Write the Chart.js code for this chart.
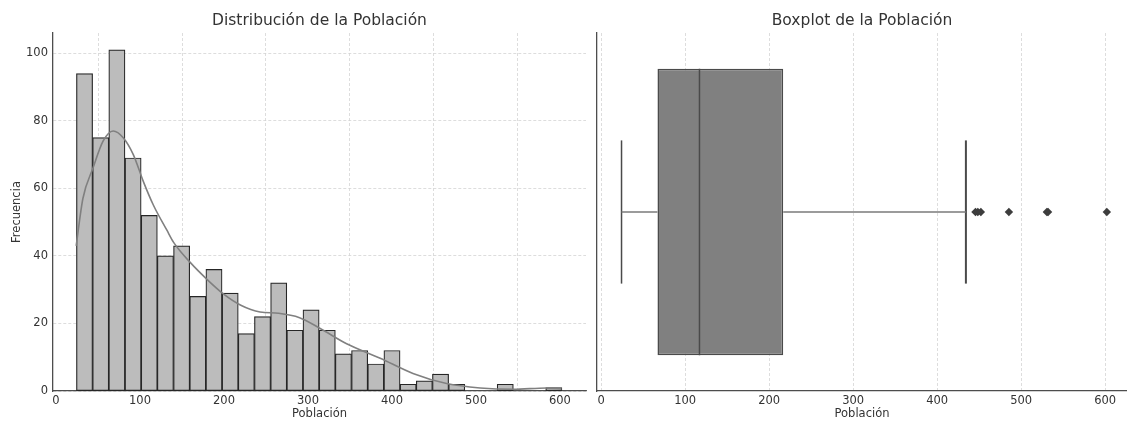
<!DOCTYPE html>
<html>
<head>
  <title>Población</title>
  <script src="https://cdn.jsdelivr.net/npm/chart.js"></script>
  <style>
    body { margin: 0; background: #fff; overflow: hidden; }
    #wrap { position: relative; width: 1127px; height: 421px; }
    #histChart { position: absolute; left: 0; top: 0; }
    #boxChart { position: absolute; left: 587px; top: 0; }
  </style>
</head>
<body>
  <div id="wrap">
    <canvas id="histChart" width="600" height="421"></canvas>
    <canvas id="boxChart" width="540" height="421"></canvas>
  </div>

  <script>
    // histogram: 30 bins between the min and max of the data
    const binMin = 24.3;
    const binMax = 602.3;
    const binCounts = [94, 75, 101, 69, 52, 40, 43, 28, 36, 29, 17, 22, 32, 18, 24,
                       18, 11, 12, 8, 12, 2, 3, 5, 2, 0, 0, 2, 0, 0, 1];

    // kde curve (scaled to counts)
    const kdeX = [24, 32, 44, 56, 68, 80, 92, 104, 116, 132, 140, 160, 180, 200, 220,
                  243, 265, 290, 314, 346, 386, 425, 465, 505, 544, 584, 602];
    const kdeY = [43, 57, 66, 74, 77, 75, 70, 62, 55, 47.6, 44, 38, 33, 28.6, 25.4,
                  23.4, 23, 21.7, 18.6, 14, 9.7, 5.2, 2.2, 0.9, 0.5, 0.9, 0.6];

    // boxplot stats
    const boxQuartiles = [67, 216.7];
    const boxMedian = 117;
    const boxWhiskers = [24.2, 434.2];
    const outliers = [445.6, 448.4, 452, 485.4, 530.6, 532, 602];

    Chart.defaults.font.family = 'DejaVu Sans';
    Chart.defaults.font.size = 11.5;
    Chart.defaults.color = '#333';

    const binWidth = (binMax - binMin) / binCounts.length;
    const histData = binCounts.map((c, i) => ({ x: binMin + binWidth * (i + 0.5), y: c }));
    const kdeData = kdeX.map((x, i) => ({ x: x, y: kdeY[i] }));

    // title centred over the plot area, like matplotlib
    const axTitle = {
      id: 'axTitle',
      afterDraw(chart, args, opts) {
        const ctx = chart.ctx;
        const a = chart.chartArea;
        ctx.save();
        ctx.font = '15.5px "DejaVu Sans"';
        ctx.fillStyle = '#333';
        ctx.textAlign = 'center';
        ctx.textBaseline = 'middle';
        ctx.fillText(opts.text, (a.left + a.right) / 2, 21);
        ctx.restore();
      }
    };

    const gridStyle = { color: '#d4d4d4', lineWidth: 0.8, drawTicks: false };
    const borderStyle = { color: '#4d4d4d', width: 1.3, dash: [3, 2] };
    const xTickOpts = {
      padding: 3,
      includeBounds: false,
      stepSize: 100,
      maxRotation: 0
    };

    new Chart(document.getElementById('histChart'), {
      type: 'bar',
      data: {
        datasets: [{
          type: 'line',
          data: kdeData,
          borderColor: '#808080',
          borderWidth: 1.6,
          pointRadius: 0,
          cubicInterpolationMode: 'monotone',
          order: 0
        }, {
          type: 'bar',
          data: histData,
          backgroundColor: '#bcbcbc',
          borderColor: '#262626',
          borderWidth: 1.2,
          borderSkipped: false,
          barPercentage: 1,
          categoryPercentage: 1,
          order: 1
        }]
      },
      options: {
        responsive: false,
        animation: false,
        layout: { autoPadding: false, padding: { left: 0, right: 14, top: 33, bottom: 0 } },
        plugins: {
          legend: { display: false },
          tooltip: { enabled: false },
          axTitle: { text: 'Distribución de la Población' }
        },
        scales: {
          x: {
            type: 'linear',
            min: -3.6,
            max: 631,
            offset: false,
            grid: gridStyle,
            border: borderStyle,
            ticks: xTickOpts,
            title: { display: true, text: 'Población', padding: { top: 0, bottom: 0 } },
            afterFit(scale) { scale.height = 30; }
          },
          y: {
            type: 'linear',
            min: 0,
            max: 106,
            grid: gridStyle,
            border: borderStyle,
            ticks: { padding: 5, stepSize: 20, includeBounds: false },
            title: { display: true, text: 'Frecuencia', padding: { top: 10, bottom: 0 } },
            afterFit(scale) { scale.width = 53; }
          }
        }
      },
      plugins: [axTitle]
    });

    new Chart(document.getElementById('boxChart'), {
      type: 'bar',
      data: {
        datasets: [{
          type: 'line',
          data: outliers.map(v => ({ x: v, y: 0 })),
          showLine: false,
          pointStyle: 'rectRot',
          pointRadius: 4.2,
          pointBackgroundColor: '#3d3d3d',
          pointBorderColor: '#3d3d3d',
          pointBorderWidth: 0
        }, {
          type: 'line',
          data: [{ x: boxMedian, y: -0.4 }, { x: boxMedian, y: 0.4 }],
          borderColor: '#4a4a4a',
          borderWidth: 1.5,
          pointRadius: 0
        }, {
          type: 'line',
          data: [{ x: boxWhiskers[0], y: 0 }, { x: boxQuartiles[0], y: 0 }],
          borderColor: '#7a7a7a',
          borderWidth: 1.5,
          pointRadius: 0
        }, {
          type: 'line',
          data: [{ x: boxQuartiles[1], y: 0 }, { x: boxWhiskers[1], y: 0 }],
          borderColor: '#7a7a7a',
          borderWidth: 1.5,
          pointRadius: 0
        }, {
          type: 'line',
          data: [{ x: boxWhiskers[0], y: -0.2 }, { x: boxWhiskers[0], y: 0.2 }],
          borderColor: '#4a4a4a',
          borderWidth: 1.5,
          pointRadius: 0
        }, {
          type: 'line',
          data: [{ x: boxWhiskers[1], y: -0.2 }, { x: boxWhiskers[1], y: 0.2 }],
          borderColor: '#4a4a4a',
          borderWidth: 2,
          pointRadius: 0
        }, {
          type: 'bar',
          data: [{ y: 0, x: boxQuartiles }],
          backgroundColor: '#808080',
          borderColor: '#4a4a4a',
          borderWidth: 1.5,
          borderSkipped: false,
          barPercentage: 1,
          categoryPercentage: 0.8
        }]
      },
      options: {
        indexAxis: 'y',
        responsive: false,
        animation: false,
        layout: { autoPadding: false, padding: { left: 0, right: 0, top: 33, bottom: 0 } },
        plugins: {
          legend: { display: false },
          tooltip: { enabled: false },
          axTitle: { text: 'Boxplot de la Población' }
        },
        scales: {
          x: {
            type: 'linear',
            min: -5,
            max: 626,
            offset: false,
            grid: gridStyle,
            border: borderStyle,
            ticks: xTickOpts,
            title: { display: true, text: 'Población', padding: { top: 0, bottom: 0 } },
            afterFit(scale) { scale.height = 30; }
          },
          y: {
            type: 'linear',
            min: -0.5,
            max: 0.5,
            offset: false,
            grid: { display: false },
            border: { color: '#4d4d4d', width: 1.3 },
            ticks: { display: false },
            afterBuildTicks(scale) { scale.ticks = [{ value: 0 }]; },
            afterFit(scale) { scale.width = 10; }
          }
        }
      },
      plugins: [axTitle]
    });
  </script>
</body>
</html>
